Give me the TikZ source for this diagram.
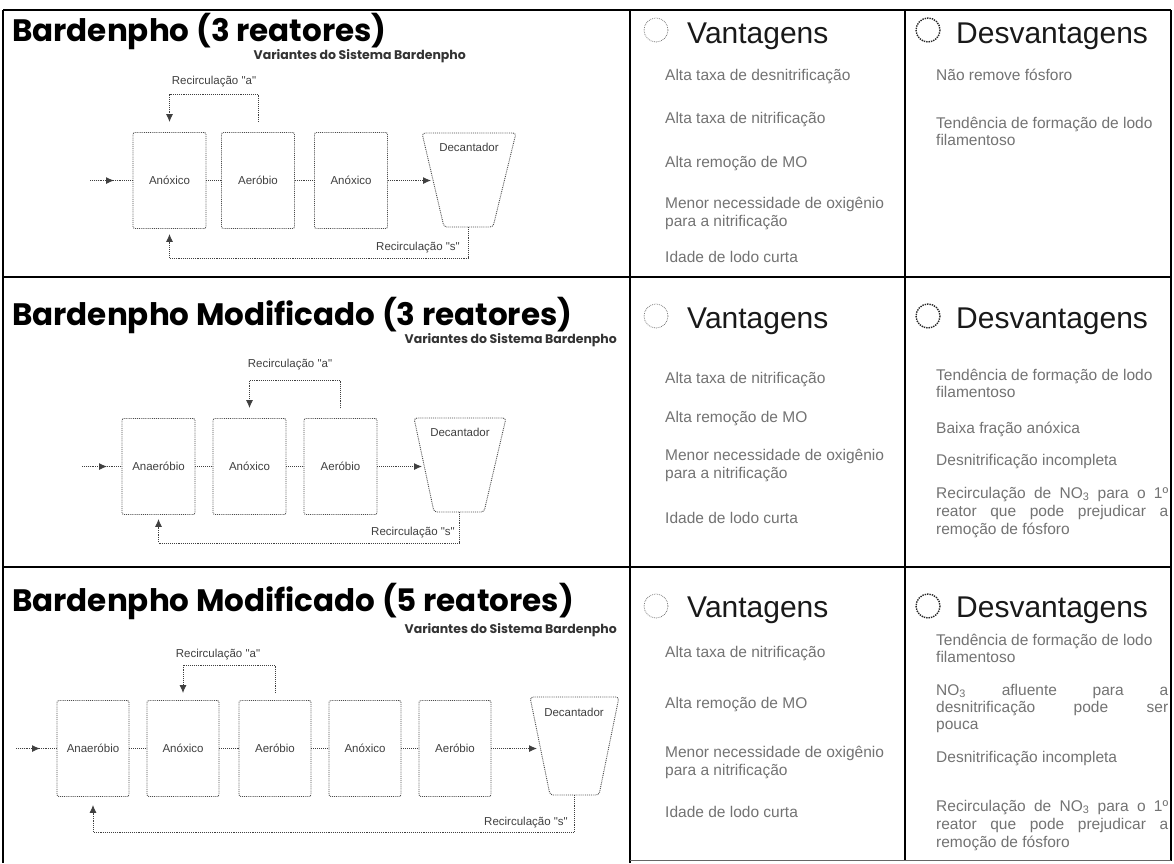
\documentclass[tikz,border=0pt]{standalone}
\usepackage{fontspec}
\setmainfont{Liberation Sans}
\newfontfamily\titlef{Poppins}
\newfontfamily\arialf{Liberation Sans}
\usetikzlibrary{arrows.meta}
\tikzset{
  frame/.style={line width=2.6pt, black},
  boxst/.style={draw=black!70, densely dotted, line width=0.9pt, rounded corners=2pt,
    minimum width=73pt, minimum height=96pt, inner sep=0pt,
    font=\arialf\fontsize{11.5}{13}\selectfont, text=black!75},
  boxline/.style={draw=black!70, densely dotted, line width=0.9pt},
  conn/.style={draw=black!75, densely dotted, line width=0.9pt},
  arr/.style={conn, -{Latex[length=8pt,width=7pt]}},
  lab/.style={font=\arialf\fontsize{11.5}{13}\selectfont, text=black!75, inner sep=0pt},
  ttl/.style={font=\titlef\bfseries\fontsize{31}{33}\selectfont, anchor=base west, inner sep=0pt},
  sub/.style={font=\titlef\bfseries\fontsize{12.5}{14}\selectfont, text=black!80, anchor=base east, inner sep=0pt},
  hdr/.style={font=\arialf\fontsize{30}{32}\selectfont, anchor=base west, inner sep=0pt, text=black!90},
  item/.style={font=\arialf\fontsize{15.5}{17}\selectfont, text=black!55, anchor=base west, inner sep=0pt},
  vcirc/.style={draw=black!50, densely dotted, line width=0.8pt},
  dcirc/.style={draw=black!85, densely dotted, line width=1.4pt},
}
\newcommand{\itm}[4]{\node[item] (#1) at (#2,#3) {#4};}
\newcommand{\jst}[1]{\makebox[232pt][s]{#1}}
\begin{document}
\begin{tikzpicture}[x=1pt,y=-1pt]
\useasboundingbox (0,0) rectangle (1174,863);
\fill[white] (0,0) rectangle (1174,863);

% ---------- frame ----------
\draw[frame] (3,10) -- (1171,10);
\draw[frame] (3,10) -- (3,863);
\draw[frame] (1171,10) -- (1171,861);
\draw[frame] (630,10) -- (630,863);
\draw[frame] (905,10) -- (905,861);
\draw[frame] (3,277) -- (1171,277);
\draw[frame] (3,567) -- (1171,567);
\draw[black!60, line width=1pt] (630,860) -- (1171,860);

% ---------- row 1 ----------
\node[ttl] (t1) at (12,41) {Bardenpho (3 reatores)};
\node[sub] (s1) at (466,59) {Variantes do Sistema Bardenpho};
\node[boxst] (b1a) at (169.5,180.5) {Anóxico};
\node[boxst] (b1b) at (258,180.5) {Aeróbio};
\node[boxst] (b1c) at (351,180.5) {Anóxico};
\coordinate (d1tl) at (422,133); \coordinate (d1tr) at (516,133);
\coordinate (d1bl) at (444,227); \coordinate (d1br) at (493,227);
\draw[boxline, rounded corners=3pt] (d1tl) -- (d1bl) -- (d1br) -- (d1tr) -- cycle;
\coordinate (d1in) at (431,180.5); \coordinate (d1b) at (468.5,227);
\node[lab] (d1) at (469,147) {Decantador};
\coordinate (i1) at (90,180.5);
\draw[conn] (i1) -- (b1a);
\draw[arr] (i1) -- ++(24,0);
\draw[conn] (b1a) -- (b1b);
\draw[conn] (b1b) -- (b1c);
\draw[arr] (b1c) -- (d1in);
\draw[arr] ([yshift=10pt]b1b.north) -- ++(0,-28) -| ([yshift=10pt]b1a.north);
\node[lab] (ra1) at (214,82) {Recirculação "a"};
\draw[arr] (d1b) -- ++(0,31) -| ([yshift=-5pt]b1a.south);
\node[lab, anchor=east] (rs1) at (460,248) {Recirculação "s"};

\draw[vcirc] (656,30) circle (12);
\node[hdr] (vh1) at (687,43) {Vantagens};
\itm{v1a}{665}{80}{Alta taxa de desnitrificação}
\itm{v1b}{665}{123}{Alta taxa de nitrificação}
\itm{v1c}{665}{167}{Alta remoção de MO}
\itm{v1d}{665}{208}{Menor necessidade de oxigênio}
\itm{v1e}{665}{226}{para a nitrificação}
\itm{v1f}{665}{262}{Idade de lodo curta}
\draw[dcirc] (928,30) circle (12);
\node[hdr] (dh1) at (956,43) {Desvantagens};
\itm{w1a}{936}{80}{Não remove fósforo}
\itm{w1b}{936}{128}{Tendência de formação de lodo}
\itm{w1c}{936}{145}{filamentoso}

% ---------- row 2 ----------
\node[ttl] (t2) at (12,325) {Bardenpho Modificado (3 reatores)};
\node[sub] (s2) at (617,343) {Variantes do Sistema Bardenpho};
\node[boxst] (b2a) at (158.5,466.5) {Anaeróbio};
\node[boxst] (b2b) at (249.5,466.5) {Anóxico};
\node[boxst] (b2c) at (340.5,466.5) {Aeróbio};
\coordinate (d2tl) at (414,418); \coordinate (d2tr) at (506,418);
\coordinate (d2bl) at (434,512); \coordinate (d2br) at (484,512);
\draw[boxline, rounded corners=3pt] (d2tl) -- (d2bl) -- (d2br) -- (d2tr) -- cycle;
\coordinate (d2in) at (422,466.5); \coordinate (d2b) at (459,512);
\node[lab] (d2) at (460,432) {Decantador};
\coordinate (i2) at (82,466.5);
\draw[conn] (i2) -- (b2a);
\draw[arr] (i2) -- ++(25,0);
\draw[conn] (b2a) -- (b2b);
\draw[conn] (b2b) -- (b2c);
\draw[arr] (b2c) -- (d2in);
\draw[arr] ([yshift=10pt]b2c.north) -- ++(0,-28) -| ([yshift=10pt]b2b.north);
\node[lab] (ra2) at (290,365) {Recirculação "a"};
\draw[arr] (d2b) -- ++(0,31) -| ([yshift=-4pt]b2a.south);
\node[lab, anchor=east] (rs2) at (455,533) {Recirculação "s"};

\draw[vcirc] (656,316) circle (12);
\node[hdr] (vh2) at (687,328) {Vantagens};
\itm{v2a}{665}{383}{Alta taxa de nitrificação}
\itm{v2b}{665}{422}{Alta remoção de MO}
\itm{v2c}{665}{460}{Menor necessidade de oxigênio}
\itm{v2d}{665}{478}{para a nitrificação}
\itm{v2e}{665}{523}{Idade de lodo curta}
\draw[dcirc] (928,316) circle (12);
\node[hdr] (dh2) at (956,328) {Desvantagens};
\itm{w2a}{936}{380}{Tendência de formação de lodo}
\itm{w2b}{936}{397}{filamentoso}
\itm{w2c}{936}{433}{Baixa fração anóxica}
\itm{w2d}{936}{465}{Desnitrificação incompleta}
\itm{w2e}{936}{498}{\jst{Recirculação de NO\textsubscript{3} para o 1º}}
\itm{w2f}{936}{516}{\jst{reator que pode prejudicar a}}
\itm{w2g}{936}{534}{remoção de fósforo}

% ---------- row 3 ----------
\node[ttl] (t3) at (12,611) {Bardenpho Modificado (5 reatores)};
\node[sub] (s3) at (617,633) {Variantes do Sistema Bardenpho};
\node[boxst, minimum width=72pt] (b3a) at (93,748.5) {Anaeróbio};
\node[boxst, minimum width=72pt] (b3b) at (183,748.5) {Anóxico};
\node[boxst, minimum width=72pt] (b3c) at (275,748.5) {Aeróbio};
\node[boxst, minimum width=72pt] (b3d) at (365,748.5) {Anóxico};
\node[boxst, minimum width=72pt] (b3e) at (455,748.5) {Aeróbio};
\coordinate (d3tl) at (530,697); \coordinate (d3tr) at (619,697);
\coordinate (d3bl) at (550,795); \coordinate (d3br) at (599,795);
\draw[boxline, rounded corners=3pt] (d3tl) -- (d3bl) -- (d3br) -- (d3tr) -- cycle;
\coordinate (d3in) at (537,748.5); \coordinate (d3b) at (574.5,795);
\node[lab] (d3) at (574,712) {Decantador};
\coordinate (i3) at (16,748.5);
\draw[conn] (i3) -- (b3a);
\draw[arr] (i3) -- ++(24,0);
\draw[conn] (b3a) -- (b3b);
\draw[conn] (b3b) -- (b3c);
\draw[conn] (b3c) -- (b3d);
\draw[conn] (b3d) -- (b3e);
\draw[arr] (b3e) -- (d3in);
\draw[arr] ([yshift=7pt]b3c.north) -- ++(0,-28) -| ([yshift=7pt]b3b.north);
\node[lab] (ra3) at (218,655) {Recirculação "a"};
\draw[arr] (d3b) -- ++(0,37) -| ([yshift=-8pt]b3a.south);
\node[lab, anchor=east] (rs3) at (568,823) {Recirculação "s"};

\draw[vcirc] (656,606) circle (12);
\node[hdr] (vh3) at (687,617) {Vantagens};
\itm{v3a}{665}{657}{Alta taxa de nitrificação}
\itm{v3b}{665}{708}{Alta remoção de MO}
\itm{v3c}{665}{757}{Menor necessidade de oxigênio}
\itm{v3d}{665}{775}{para a nitrificação}
\itm{v3e}{665}{817}{Idade de lodo curta}
\draw[dcirc] (928,606) circle (12);
\node[hdr] (dh3) at (956,617) {Desvantagens};
\itm{w3a}{936}{645}{Tendência de formação de lodo}
\itm{w3b}{936}{662}{filamentoso}
\itm{w3c}{936}{695}{\jst{NO\textsubscript{3} afluente para a}}
\itm{w3d}{936}{712}{\jst{desnitrificação pode ser}}
\itm{w3e}{936}{729}{pouca}
\itm{w3f}{936}{762}{Desnitrificação incompleta}
\itm{w3g}{936}{811}{\jst{Recirculação de NO\textsubscript{3} para o 1º}}
\itm{w3h}{936}{829}{\jst{reator que pode prejudicar a}}
\itm{w3i}{936}{847}{remoção de fósforo}
\end{tikzpicture}
\end{document}
